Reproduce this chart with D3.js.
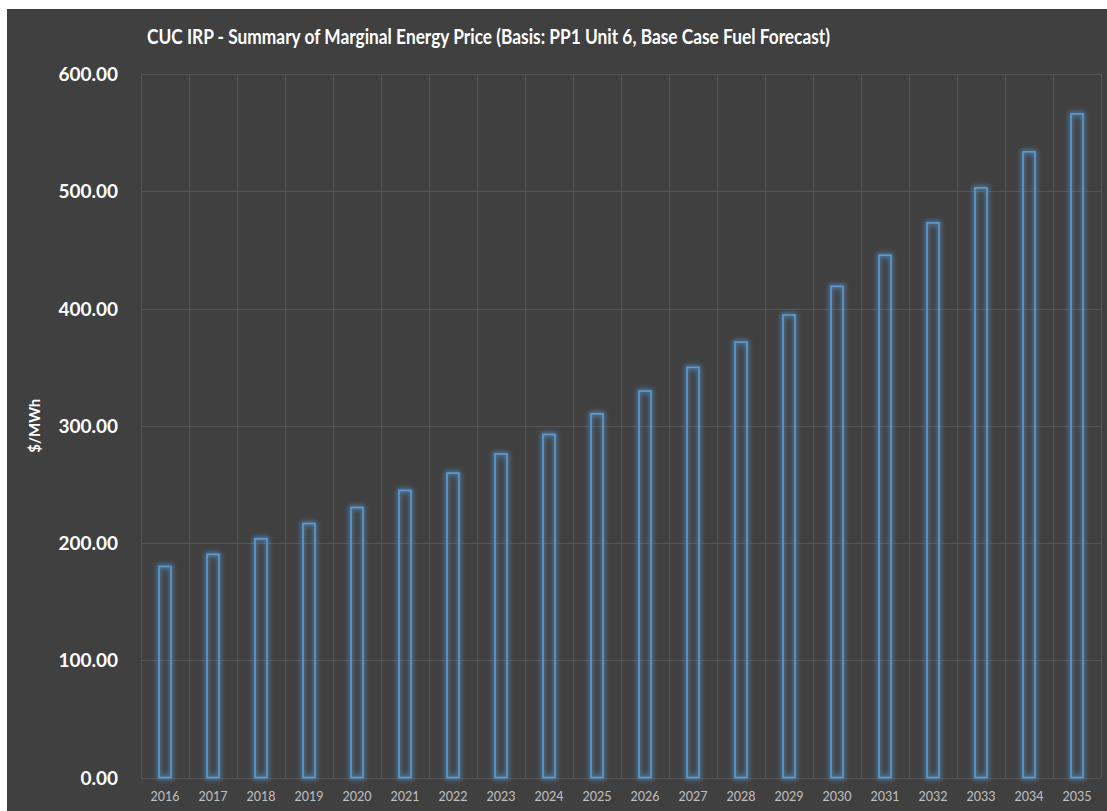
<!DOCTYPE html>
<html>
<head>
<meta charset="utf-8">
<script src="https://cdn.jsdelivr.net/npm/d3@7"></script>
<style>
  html, body { margin: 0; padding: 0; background: #ffffff; }
  svg { display: block; }
</style>
</head>
<body>
<svg id="chart" width="1107" height="811"></svg>
<script>
const years = ["2016","2017","2018","2019","2020","2021","2022","2023","2024","2025",
               "2026","2027","2028","2029","2030","2031","2032","2033","2034","2035"];
const prices = [180.0, 190.3, 203.6, 216.6, 230.3, 244.8, 259.6, 276.0, 292.6, 310.2,
                329.6, 349.8, 371.4, 394.5, 418.9, 445.4, 473.0, 502.9, 533.6, 566.0];
const yTicks = [0, 100, 200, 300, 400, 500, 600];
const titleText = "CUC IRP - Summary of Marginal Energy Price (Basis: PP1 Unit 6, Base Case Fuel Forecast)";
const yAxisTitle = "$/MWh";

const svg = d3.select("#chart");
const W = 1107, H = 811;
const plot = { left: 141, right: 1101, top: 74, bottom: 777.5 };

// background
svg.append("rect").attr("x", 7).attr("y", 9).attr("width", W - 7).attr("height", H - 9)
  .attr("fill", "#404040");

// glow filter
const defs = svg.append("defs");
const f = defs.append("filter").attr("id", "glow")
  .attr("x", "-80%").attr("y", "-20%").attr("width", "260%").attr("height", "140%");
f.append("feMorphology").attr("in", "SourceGraphic").attr("operator", "dilate").attr("radius", 1).attr("result", "thick");
f.append("feGaussianBlur").attr("in", "thick").attr("stdDeviation", 2.8).attr("result", "blur");
f.append("feComponentTransfer").attr("in", "blur").attr("result", "blur2")
  .append("feFuncA").attr("type", "linear").attr("slope", 0.8);
const m = f.append("feMerge");
m.append("feMergeNode").attr("in", "blur2");
m.append("feMergeNode").attr("in", "SourceGraphic");

const x = d3.scaleBand().domain(years).range([plot.left, plot.right]).paddingInner(0).paddingOuter(0);
const y = d3.scaleLinear().domain([0, 600]).range([plot.bottom, plot.top]);

// horizontal gridlines
svg.append("g").selectAll("line").data(yTicks).join("line")
  .attr("x1", plot.left).attr("x2", plot.right)
  .attr("y1", d => Math.round(y(d)) + 0.5).attr("y2", d => Math.round(y(d)) + 0.5)
  .attr("stroke", "#565656").attr("stroke-width", 1);

// vertical gridlines at category boundaries
const bounds = years.map(d => x(d)).concat([plot.right]);
svg.append("g").selectAll("line").data(bounds).join("line")
  .attr("x1", d => Math.round(d) + 0.5).attr("x2", d => Math.round(d) + 0.5)
  .attr("y1", plot.top).attr("y2", plot.bottom)
  .attr("stroke", "#565656").attr("stroke-width", 1);

// bars
const barW = 12;
svg.append("g").attr("filter", "url(#glow)").selectAll("rect").data(years).join("rect")
  .attr("x", d => x(d) + x.bandwidth() / 2 - barW / 2)
  .attr("y", (d, i) => y(prices[i]))
  .attr("width", barW)
  .attr("height", (d, i) => y(0) - y(prices[i]))
  .attr("fill", "none")
  .attr("stroke", "#5B9BD5")
  .attr("stroke-width", 1.6);

// y axis labels
const yAxis = d3.axisLeft(y).tickValues(yTicks).tickFormat(d3.format(".2f")).tickSize(0).tickPadding(0);
const ya = svg.append("g").attr("transform", `translate(118,0)`).call(yAxis);
ya.select(".domain").remove();
ya.selectAll("text").attr("fill", "#ffffff").attr("font-family", "Lato, 'Open Sans', sans-serif")
  .attr("font-weight", "bold").attr("font-size", 19).attr("dy", "0.35em");

// x axis labels
const xAxis = d3.axisBottom(x).tickSize(0).tickPadding(0);
const xa = svg.append("g").attr("transform", `translate(0,${plot.bottom})`).call(xAxis);
xa.select(".domain").remove();
xa.selectAll("text").attr("fill", "#c0c0c0").attr("font-family", "Lato, 'Open Sans', sans-serif")
  .attr("font-size", 12.5).attr("dy", 0).attr("y", 23.5);

// y axis title
svg.append("text")
  .attr("transform", `translate(40,${(plot.top + plot.bottom) / 2}) rotate(-90)`)
  .attr("text-anchor", "middle")
  .attr("fill", "#ffffff").attr("font-family", "Lato, 'Open Sans', sans-serif")
  .attr("font-weight", "bold").attr("font-size", 15)
  .text(yAxisTitle);

// title
svg.append("text")
  .attr("x", 147).attr("y", 44)
  .attr("textLength", 683).attr("lengthAdjust", "spacingAndGlyphs")
  .attr("fill", "#ffffff").attr("font-family", "Lato, 'Open Sans', sans-serif")
  .attr("font-weight", "bold").attr("font-size", 20)
  .text(titleText);
</script>
</body>
</html>
